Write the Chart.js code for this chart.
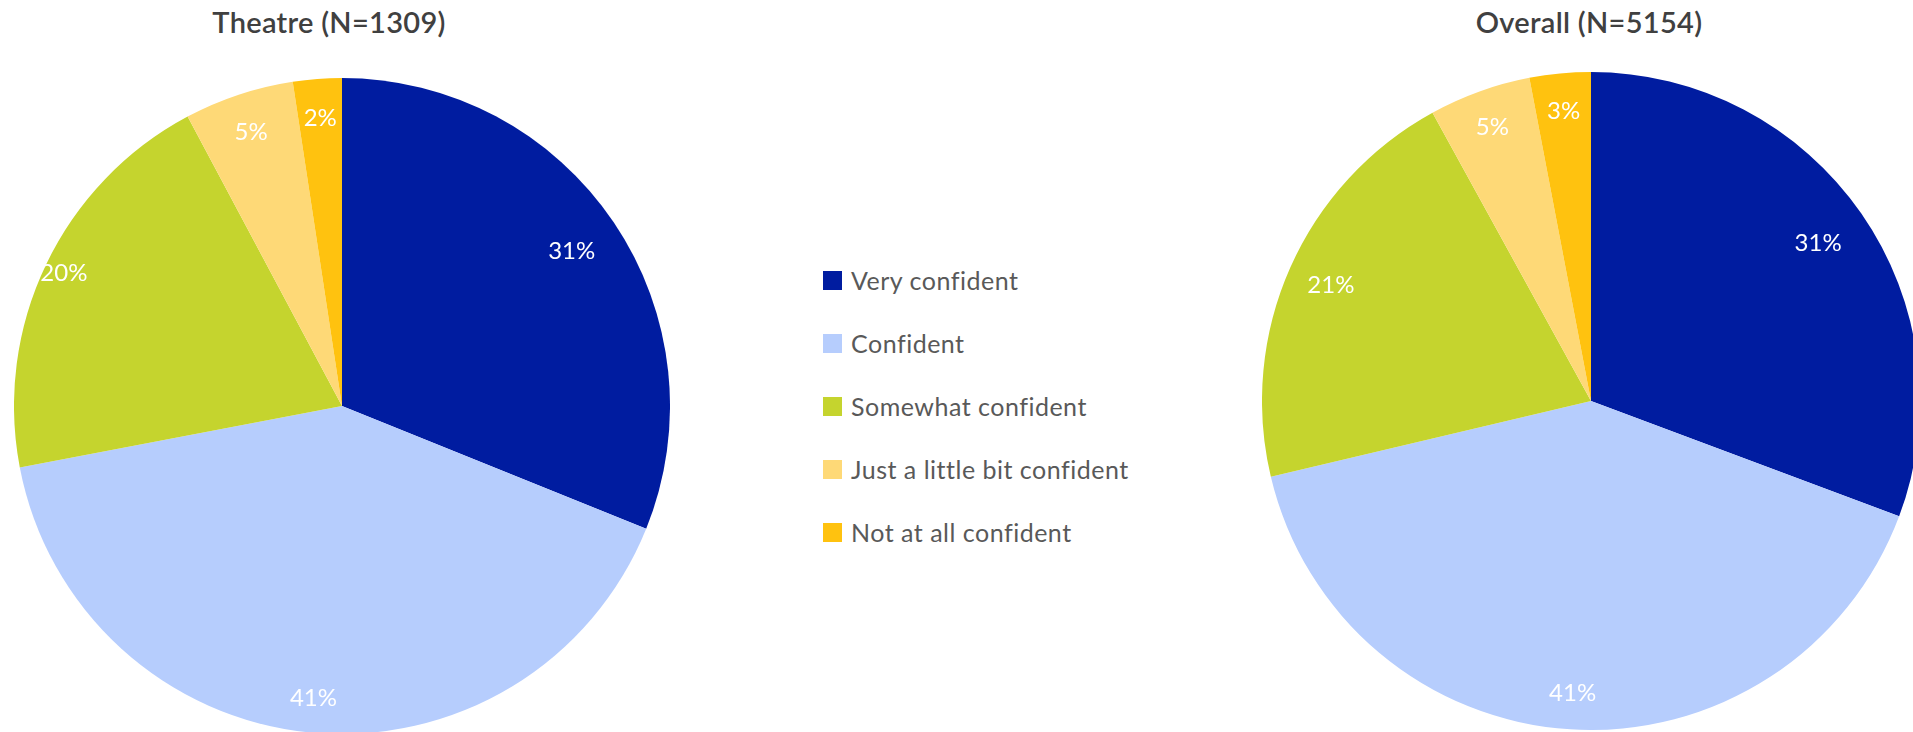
<!DOCTYPE html>
<html>
<head>
<meta charset="utf-8">
<script src="https://cdn.jsdelivr.net/npm/chart.js@4/dist/chart.umd.min.js"></script>
<style>
  html, body { margin: 0; padding: 0; background: #fff; overflow: hidden; width: 1913px; height: 732px; }
  body { position: relative; font-family: Lato, "Open Sans", sans-serif; }
  canvas { position: absolute; }
  .title { position: absolute; top: 4px; font-size: 29px; font-weight: 600; color: #404040; transform: translateX(-50%); white-space: nowrap; letter-spacing: 0.3px; }
  #legend { position: absolute; left: 823px; top: 260px; }
  .item { position: absolute; left: 0; height: 40px; display: flex; align-items: center; white-space: nowrap; font-size: 25px; color: #595959; letter-spacing: 0.5px; }
  .item span.box { width: 19px; height: 19px; margin-right: 9px; display: inline-block; }
</style>
</head>
<body>
<div class="title" style="left:329px">Theatre (N=1309)</div>
<div class="title" style="left:1589px">Overall (N=5154)</div>
<canvas id="theatreChart" width="656" height="656" style="left:14px; top:78px"></canvas>
<canvas id="overallChart" width="658" height="658" style="left:1262px; top:72px"></canvas>
<div id="legend"></div>
<script>
// categories and shares (%); labels show the rounded value
const categories = ['Very confident', 'Confident', 'Somewhat confident', 'Just a little bit confident', 'Not at all confident'];
const theatreValues = [31.1, 40.9, 20.2, 5.4, 2.4];
const overallValues = [30.7, 40.6, 20.7, 5.0, 3.0];
const sliceColors = ['#001CA0', '#B6CDFD', '#C5D42E', '#FED977', '#FFC20F'];

// draws "31%" etc. inside each slice
const sliceLabels = {
  id: 'sliceLabels',
  afterDatasetsDraw(chart, args, opts) {
    const ctx = chart.ctx;
    const meta = chart.getDatasetMeta(0);
    const values = chart.data.datasets[0].data;
    ctx.save();
    ctx.font = '24px Lato, "Open Sans", sans-serif';
    ctx.fillStyle = '#ffffff';
    ctx.textAlign = 'center';
    ctx.textBaseline = 'middle';
    meta.data.forEach((arc, i) => {
      const p = arc.getProps(['x', 'y', 'startAngle', 'endAngle', 'outerRadius'], true);
      const mid = (p.startAngle + p.endAngle) / 2;
      const r = p.outerRadius * (opts.radius[i] || 0.88);
      ctx.fillText(Math.round(values[i]) + '%', p.x + Math.cos(mid) * r, p.y + Math.sin(mid) * r);
    });
    ctx.restore();
  }
};

const makePie = (id, values, radius) => {
  new Chart(document.getElementById(id), {
    type: 'pie',
    data: {
      labels: categories,
      datasets: [{
        data: values,
        backgroundColor: sliceColors,
        borderWidth: 0
      }]
    },
    options: {
      responsive: false,
      animation: false,
      devicePixelRatio: 1,
      layout: { padding: 0 },
      plugins: {
        legend: { display: false },
        tooltip: { enabled: false },
        sliceLabels: { radius: radius }
      }
    },
    plugins: [sliceLabels]
  });
};

makePie('theatreChart', theatreValues, [0.845, 0.895, 0.94, 0.88, 0.88]);
makePie('overallChart', overallValues, [0.84, 0.89, 0.865, 0.885, 0.885]);

// shared legend in the middle
const legend = document.getElementById('legend');
categories.forEach((c, i) => {
  const row = document.createElement('div');
  row.className = 'item';
  row.style.top = (i * 63) + 'px';
  row.innerHTML = '<span class="box" style="background:' + sliceColors[i] + '"></span>' + c;
  legend.appendChild(row);
});
</script>
</body>
</html>
